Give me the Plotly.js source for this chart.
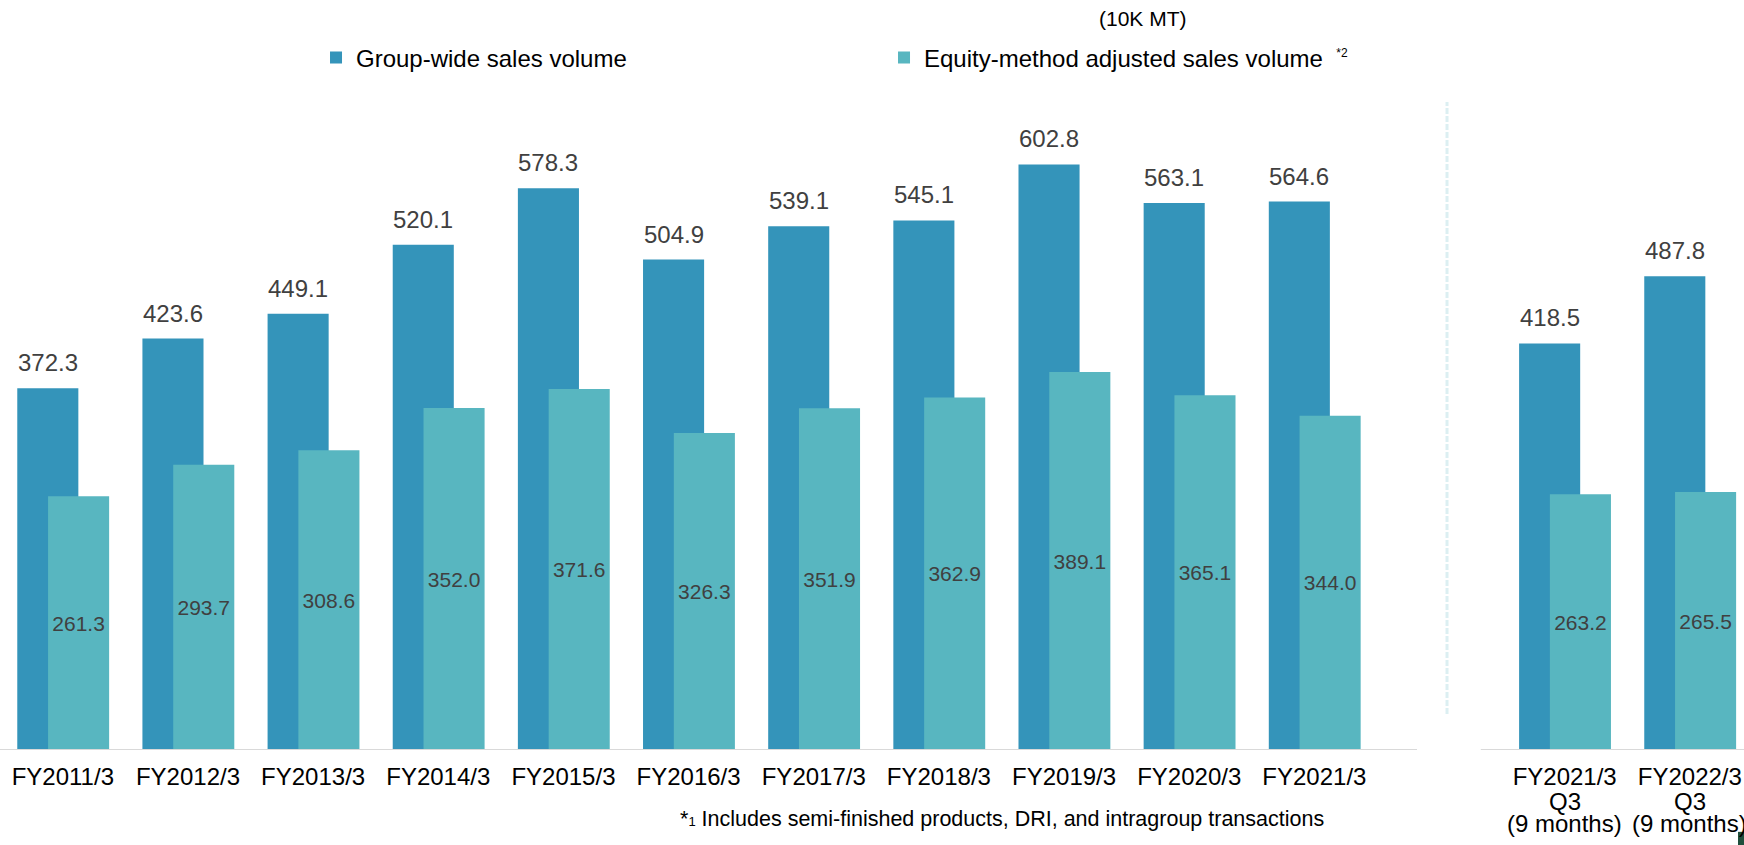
<!DOCTYPE html>
<html>
<head>
<meta charset="utf-8">
<script src="https://cdn.plot.ly/plotly-3.0.1.min.js"></script>
<style>
  html, body { margin: 0; padding: 0; background: #ffffff; }
  #chart { width: 1744px; height: 845px; }
</style>
</head>
<body>
<div id="chart"></div>
<script>
// ---- Data (10K MT) ----
const categories = [
  "FY2011/3", "FY2012/3", "FY2013/3", "FY2014/3", "FY2015/3", "FY2016/3",
  "FY2017/3", "FY2018/3", "FY2019/3", "FY2020/3", "FY2021/3",
  " ",
  "FY2021/3 Q3 (9 months)", "FY2022/3 Q3 (9 months)"
];
const tickLabels = [
  "FY2011/3", "FY2012/3", "FY2013/3", "FY2014/3", "FY2015/3", "FY2016/3",
  "FY2017/3", "FY2018/3", "FY2019/3", "FY2020/3", "FY2021/3",
  "",
  "FY2021/3", "FY2022/3"
];
const quarterLine = ["", "", "", "", "", "", "", "", "", "", "", "", "Q3", "Q3"];
const periodLine  = ["", "", "", "", "", "", "", "", "", "", "", "", "(9 months)", "(9 months)"];

const groupWide      = [372.3, 423.6, 449.1, 520.1, 578.3, 504.9, 539.1, 545.1, 602.8, 563.1, 564.6, null, 418.5, 487.8];
const equityAdjusted = [261.3, 293.7, 308.6, 352.0, 371.6, 326.3, 351.9, 362.9, 389.1, 365.1, 344.0, null, 263.2, 265.5];

const seriesNames = ["Group-wide sales volume", "Equity-method adjusted sales volume"];
const unitLabel = "(10K MT)";
const footnote = "Includes semi-finished products, DRI, and intragroup transactions";

// ---- Styles ----
const FONT = "Arial, 'Liberation Sans', sans-serif";
const BLUE = "#3494BA";
const TEAL = "#58B6C0";
const LABEL_GRAY = "#404040";
const BAR_W = 0.488;
const BLUE_OFF = -0.364;
const TEAL_OFF = -0.118;

const fmt = v => (v == null ? "" : v.toFixed(1));

const traces = [
  {
    type: "bar",
    name: seriesNames[0],
    x: categories,
    y: groupWide,
    width: BAR_W,
    offset: BLUE_OFF,
    marker: { color: BLUE },
    hoverinfo: "skip"
  },
  {
    type: "bar",
    name: seriesNames[1] + "\u00a0\u00a0<sup><span style='font-size:12px'>*2</span></sup>",
    x: categories,
    y: equityAdjusted,
    width: BAR_W,
    offset: TEAL_OFF,
    marker: { color: TEAL },
    text: equityAdjusted.map(fmt),
    textposition: "inside",
    insidetextanchor: "middle",
    textangle: 0,
    constraintext: "none",
    textfont: { family: FONT, size: 21, color: LABEL_GRAY },
    hoverinfo: "skip"
  }
];

const annotations = [];
// value labels above the group-wide bars
groupWide.forEach((v, i) => {
  if (v == null) return;
  annotations.push({
    x: categories[i], y: v, xref: "x", yref: "y",
    text: fmt(v), showarrow: false,
    yanchor: "bottom", xanchor: "center",
    xshift: -15, yshift: 10,
    font: { family: FONT, size: 24, color: LABEL_GRAY }
  });
});
// extra tick label lines
quarterLine.forEach((t, i) => {
  if (!t) return;
  annotations.push({
    x: categories[i], y: -0.0773, xref: "x", yref: "paper",
    text: t, showarrow: false, yanchor: "middle", xanchor: "center",
    font: { family: FONT, size: 24, color: "#000000" }
  });
});
periodLine.forEach((t, i) => {
  if (!t) return;
  annotations.push({
    x: categories[i], y: -0.1121, xref: "x", yref: "paper",
    text: t, showarrow: false, yanchor: "middle", xanchor: "center",
    font: { family: FONT, size: 24, color: "#000000" }
  });
});
annotations.push({
  x: 0.6554, y: 1.1076, xref: "paper", yref: "paper",
  text: unitLabel, showarrow: false, xanchor: "center", yanchor: "middle",
  font: { family: FONT, size: 21, color: "#000000" }
});
annotations.push({
  x: 0.3888, y: -0.1045, xref: "paper", yref: "paper",
  text: "*<span style='font-size:13px'>1</span> " + footnote,
  showarrow: false, xanchor: "left", yanchor: "middle",
  font: { family: FONT, size: 21.5, color: "#000000" }
});

const shapes = [
  { type: "line", xref: "x", yref: "y", x0: -0.6, x1: 10.82, y0: 0, y1: 0,
    line: { color: "#d9d9d9", width: 2 } },
  { type: "line", xref: "x", yref: "y", x0: 11.33, x1: 13.6, y0: 0, y1: 0,
    line: { color: "#d9d9d9", width: 2 } },
  { type: "line", xref: "x", yref: "y", x0: 11.06, x1: 11.06, y0: 37, y1: 667,
    line: { color: "rgb(220,239,242)", width: 3, dash: "6px,2px" } },
  { type: "rect", xref: "paper", yref: "paper", x0: 0.99656, x1: 1.01, y0: -0.16, y1: -0.124,
    line: { width: 0 }, fillcolor: "#1f4f3c" }
];

const tickIdx = tickLabels.map((t, i) => i).filter(i => tickLabels[i] !== "");

const layout = {
  width: 1744, height: 845,
  margin: { l: 0, r: 0, t: 90, b: 95, pad: 0 },
  paper_bgcolor: "#ffffff",
  plot_bgcolor: "#ffffff",
  barmode: "overlay",
  font: { family: FONT, size: 24, color: "#000000" },
  showlegend: true,
  legend: {
    orientation: "h",
    x: 0.1812, xanchor: "left",
    y: 1.0485, yanchor: "middle",
    entrywidth: 523,
    font: { family: FONT, size: 24, color: "#000000" },
    bgcolor: "rgba(0,0,0,0)",
    traceorder: "normal"
  },
  xaxis: {
    type: "category",
    range: [-0.502, 13.433],
    tickmode: "array",
    tickvals: tickIdx.map(i => categories[i]),
    ticktext: tickIdx.map(i => tickLabels[i]),
    ticks: "",
    ticklabelstandoff: 10,
    showline: false,
    showgrid: false,
    zeroline: false,
    tickfont: { family: FONT, size: 24, color: "#000000" },
    fixedrange: true
  },
  yaxis: {
    range: [0, 679.4],
    showgrid: false,
    zeroline: false,
    showline: false,
    showticklabels: false,
    ticks: "",
    fixedrange: true
  },
  annotations: annotations,
  shapes: shapes
};

Plotly.newPlot("chart", traces, layout, { displayModeBar: false, staticPlot: true });
</script>
</body>
</html>
